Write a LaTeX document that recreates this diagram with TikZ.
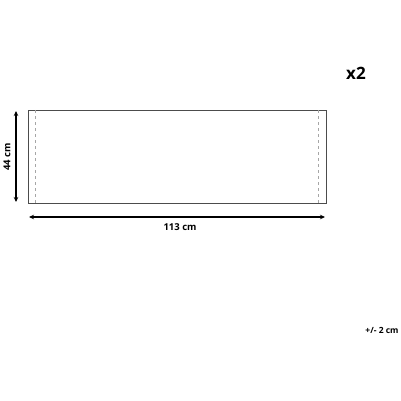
\documentclass[tikz,border=0pt]{standalone}
\usepackage{fontspec}
\setmainfont{Open Sans}
\usepackage{tikz}
\usetikzlibrary{positioning, arrows.meta}
\tikzstyle{panel}=[draw=black!70, line width=0.8pt]
\tikzstyle{foldLine}=[draw=black!35, dashed, line width=0.5pt]
\tikzstyle{dimArrow}=[{Stealth[length=5pt,width=4.5pt]}-{Stealth[length=5pt,width=4.5pt]}, line width=1.3pt]
\tikzstyle{dimLabel}=[font=\bfseries\fontsize{9.5}{11}\selectfont, inner sep=0pt]

\begin{document}
\begin{tikzpicture}[x=1pt, y=-1pt]

    \useasboundingbox (0,0) rectangle (401,401);

    % panel outline
    \draw[panel] (28,110) rectangle (326,203);
    \draw[foldLine] (35,110) -- (35,203);
    \draw[foldLine] (318,110) -- (318,203);

    \coordinate (vTop) at (16,111);
    \coordinate (vBot) at (16,202);
    \coordinate (hLeft) at (29,217);
    \coordinate (hRight) at (325,217);

    \node[dimLabel, rotate=90] (height) at (7,157) {44 cm};
    \node[dimLabel] (width) at (180,227) {113 cm};
    \node[font=\bfseries\fontsize{17}{20}\selectfont, inner sep=0pt] (count) at (356,73) {x2};
    \node[dimLabel, font=\bfseries\fontsize{8.5}{10}\selectfont] (tol) at (382,330) {+/- 2 cm};

    \draw[dimArrow] (vTop) -- (vBot);
    \draw[dimArrow] (hLeft) -- (hRight);

\end{tikzpicture}
\end{document}
